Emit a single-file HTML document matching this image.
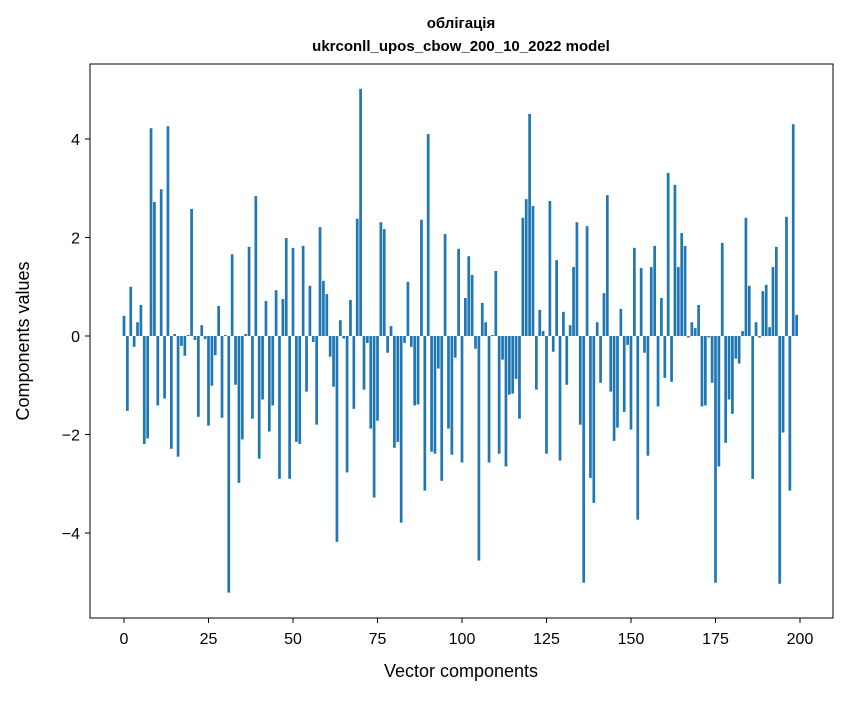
<!DOCTYPE html>
<html><head><meta charset="utf-8"><style>
body{margin:0;background:#fff}
svg text{font-family:"Liberation Sans","DejaVu Sans",sans-serif;fill:#000}
</style></head><body>
<svg id="c" width="847" height="696" xmlns="http://www.w3.org/2000/svg">
<text x="461" y="28" text-anchor="middle" font-size="15" font-weight="bold">облігація</text>
<text x="461" y="51" text-anchor="middle" font-size="15" font-weight="bold">ukrconll_upos_cbow_200_10_2022 model</text>
<g id="bars"></g>
<rect x="90" y="64" width="743" height="554" fill="none" stroke="#000" stroke-width="1"/>
<g id="xt"></g>
<g id="yt"></g>
<text x="461" y="677" text-anchor="middle" font-size="18">Vector components</text>
<text transform="translate(29,341) rotate(-90)" text-anchor="middle" font-size="18">Components values</text>
</svg>
<script>
const values=[0.41,-1.52,1.0,-0.22,0.28,0.63,-2.19,-2.08,4.22,2.72,-1.41,2.98,-1.27,4.26,-2.29,0.04,-2.45,-0.2,-0.4,0.02,2.58,-0.08,-1.64,0.22,-0.06,-1.82,-1.01,-0.39,0.61,-1.66,0.02,-5.21,1.66,-0.99,-2.98,-2.1,0.04,1.81,-1.68,2.84,-2.49,-1.29,0.71,-1.94,-1.41,0.93,-2.9,0.75,1.99,-2.9,1.79,-2.15,-2.19,1.83,-1.13,1.02,-0.12,-1.8,2.21,1.12,0.85,-0.42,-1.03,-4.18,0.32,-0.05,-2.77,0.73,-1.48,2.38,5.02,-1.09,-0.14,-1.88,-3.28,-1.72,2.31,2.17,-0.34,0.2,-2.27,-2.15,-3.79,-0.14,1.1,-0.22,-1.41,-1.39,2.36,-3.14,4.1,-2.35,-2.39,-0.66,-2.94,2.07,-1.88,-2.41,-0.44,1.77,-2.57,0.77,1.62,1.24,-0.26,-4.56,0.67,0.28,-2.57,0.02,1.32,-2.39,-0.48,-2.65,-1.19,-1.17,-0.87,-1.68,2.4,2.78,4.51,2.64,-1.09,0.53,0.1,-2.39,2.74,-0.32,1.54,-2.53,0.49,-0.99,0.22,1.4,2.31,-1.8,-5.01,2.23,-2.88,-3.39,0.28,-0.95,0.87,2.86,-1.13,-2.13,-1.86,0.55,-1.54,-0.18,-1.9,1.79,-3.73,1.38,-0.34,-2.43,1.4,1.83,-1.43,0.77,-0.85,3.31,-0.93,3.07,1.4,2.09,1.83,-0.03,0.28,0.16,0.63,-1.43,-1.41,-0.03,-0.95,-5.01,-2.65,1.89,-2.17,-1.29,-1.58,-0.46,-0.56,0.1,2.4,1.02,-2.9,0.28,-0.03,0.91,1.04,0.18,1.4,1.81,-5.03,-1.96,2.42,-3.14,4.3,0.43];
const xTicks=[0,25,50,75,100,125,150,175,200];
const yTicks=[-4,-2,0,2,4];
const NS="http://www.w3.org/2000/svg";
const X=v=>124+v*3.38, Y=v=>336-v*49.25;
const bars=document.getElementById('bars');
values.forEach((v,i)=>{
  const r=document.createElementNS(NS,'rect');
  
  
  r.setAttribute('x',X(i-0.4));
  r.setAttribute('width',0.8*3.38);
  r.setAttribute('y',Math.min(Y(v),Y(0)));
  r.setAttribute('height',Math.abs(Y(v)-Y(0)));
  r.setAttribute('fill','#1f77b4');
  bars.appendChild(r);
});
const xt=document.getElementById('xt');
xTicks.forEach(t=>{
  const l=document.createElementNS(NS,'line');
  
  
  l.setAttribute('x1',X(t));l.setAttribute('x2',X(t));l.setAttribute('y1',618);l.setAttribute('y2',623);l.setAttribute('stroke','#000');
  xt.appendChild(l);
  const s=document.createElementNS(NS,'text');
  
  
  s.setAttribute('x',X(t));s.setAttribute('y',644);s.setAttribute('text-anchor','middle');s.setAttribute('font-size','16');
  s.textContent=t;xt.appendChild(s);
});
const yt=document.getElementById('yt');
yTicks.forEach(t=>{
  const l=document.createElementNS(NS,'line');
  
  
  l.setAttribute('x1',85);l.setAttribute('x2',90);l.setAttribute('y1',Y(t));l.setAttribute('y2',Y(t));l.setAttribute('stroke','#000');
  yt.appendChild(l);
  const s=document.createElementNS(NS,'text');
  
  
  s.setAttribute('x',80);s.setAttribute('y',Y(t)+6);s.setAttribute('text-anchor','end');s.setAttribute('font-size','16');
  s.textContent=t<0?'\u2212'+(-t):t;yt.appendChild(s);
});
</script>
</body></html>
